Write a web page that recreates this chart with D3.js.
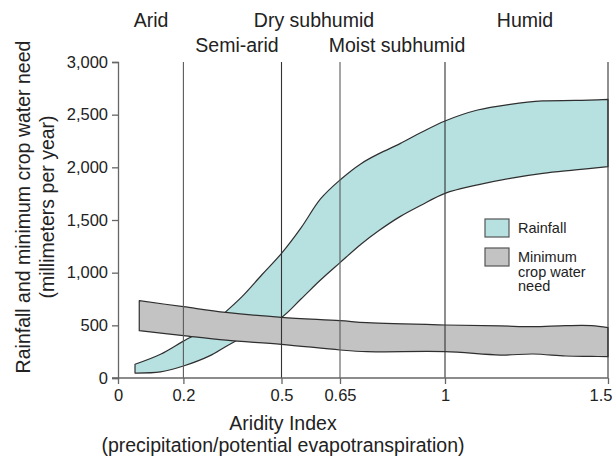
<!DOCTYPE html>
<html>
<head>
<meta charset="utf-8">
<script src="https://cdn.jsdelivr.net/npm/d3@7/dist/d3.min.js"></script>
<style>
  html, body { margin: 0; padding: 0; background: #fff; }
  svg { display: block; }
  text { font-family: "Liberation Sans", Arial, sans-serif; fill: #222; }
</style>
</head>
<body>
<div id="chart"></div>
<script>
// ---- Data ----
const xTicks = [0, 0.2, 0.5, 0.65, 1, 1.5];
const xTickLabels = ["0", "0.2", "0.5", "0.65", "1", "1.5"];
const zoneBoundaries = [0.2, 0.5, 0.65, 1, 1.5];
const zoneNames = ["Arid", "Semi-arid", "Dry subhumid", "Moist subhumid", "Humid"];
const yTicks = [0, 500, 1000, 1500, 2000, 2500, 3000];

// Rainfall band (mm/year): aridity index, lower and upper bounds
const rainX  = [0.052, 0.13, 0.2, 0.28, 0.33, 0.38, 0.44, 0.5, 0.55, 0.6, 0.65, 0.72, 0.78, 0.85, 0.92, 1.0, 1.1, 1.2, 1.3, 1.4, 1.5];
const rainLo = [47, 58, 114, 210, 300, 385, 480, 575, 750, 930, 1095, 1270, 1400, 1532, 1640, 1753, 1834, 1896, 1943, 1975, 2006];
const rainHi = [130, 225, 350, 490, 630, 775, 980, 1183, 1425, 1700, 1880, 2035, 2130, 2225, 2330, 2440, 2544, 2598, 2630, 2635, 2646];

// Minimum crop water need band (mm/year)
const needX  = [0.065, 0.2, 0.33, 0.5, 0.65, 0.74, 1.0, 1.17, 1.27, 1.37, 1.45, 1.5];
const needLo = [449, 402, 359, 320, 266, 250, 250, 218, 228, 209, 205, 202];
const needHi = [734, 677, 623, 576, 544, 525, 503, 494, 487, 497, 497, 478];

const legendLabels = [["Rainfall"], ["Minimum", "crop water", "need"]];

// ---- Layout ----
const W = 613, H = 456;
const TEAL = "#b7e0e0", GREY = "#c3c3c3", EDGE = "#2f2f2f";

const svg = d3.select("#chart").append("svg")
  .attr("width", W).attr("height", H);

// The source figure's axis is drawn piecewise (0.65 sits slightly off-linear)
const x = d3.scaleLinear()
  .domain([0, 0.5, 0.65, 1, 1.5])
  .range([118, 281.5, 340, 445, 608]);
const y = d3.scaleLinear().domain([0, 3000]).range([378, 62]);

const rain = rainX.map((v, i) => ({x: v, lo: rainLo[i], hi: rainHi[i]}));
const need = needX.map((v, i) => ({x: v, lo: needLo[i], hi: needHi[i]}));

const area = d3.area()
  .x(d => x(d.x)).y0(d => y(d.lo)).y1(d => y(d.hi))
  .curve(d3.curveCatmullRom.alpha(0.5));

svg.append("path").datum(rain).attr("d", area)
  .attr("fill", TEAL).attr("stroke", EDGE).attr("stroke-width", 1.2)
  .attr("stroke-linejoin", "round");
svg.append("path").datum(need).attr("d", area)
  .attr("fill", GREY).attr("stroke", EDGE).attr("stroke-width", 1.2)
  .attr("stroke-linejoin", "round");

// zone boundary lines
svg.append("g").selectAll("line").data(zoneBoundaries).join("line")
  .attr("x1", d => x(d)).attr("x2", d => x(d))
  .attr("y1", y(3000)).attr("y2", y(0))
  .attr("stroke", (d) => (d === 0.2 || d === 0.65) ? "#5a5a5a" : "#333")
  .attr("stroke-width", 1.1);

// axes
const yAxis = d3.axisLeft(y).tickValues(yTicks).tickSize(6).tickPadding(4)
  .tickFormat(d3.format(","));
const gy = svg.append("g").attr("transform", `translate(${x(0)},0)`).call(yAxis);
gy.select(".domain").attr("stroke", "#666").attr("stroke-width", 1.3);
gy.selectAll(".tick line").attr("stroke", "#666").attr("stroke-width", 1.3);
gy.selectAll(".tick text").attr("font-size", 16.5).attr("fill", "#333")
  .attr("font-family", "Liberation Sans, Arial, sans-serif");

const xAxis = d3.axisBottom(x).tickValues(xTicks).tickSize(6).tickPadding(5)
  .tickFormat((d, i) => xTickLabels[i]);
const gx = svg.append("g").attr("transform", `translate(0,${y(0)})`).call(xAxis);
gx.select(".domain").attr("stroke", "#666").attr("stroke-width", 1.3)
  .attr("d", `M${x(0) - 6},0H${x(1.5)}`);
gx.selectAll(".tick line").attr("stroke", "#666").attr("stroke-width", 1.3);
gx.selectAll(".tick text").attr("font-size", 16.5).attr("fill", "#333")
  .attr("font-family", "Liberation Sans, Arial, sans-serif");
// keep the last label inside the picture
gx.selectAll(".tick text").filter(d => d === 1.5)
  .attr("text-anchor", "end").attr("dx", 4);

// zone names above plot
const zonePos = [
  {cx: 151, y: 27}, {cx: 237, y: 52}, {cx: 314, y: 27}, {cx: 397, y: 52}, {cx: 525, y: 27}
];
svg.append("g").selectAll("text").data(zoneNames).join("text")
  .attr("x", (d, i) => zonePos[i].cx).attr("y", (d, i) => zonePos[i].y)
  .attr("text-anchor", "middle").attr("font-size", 19.5)
  .text(d => d);

// axis titles
svg.append("text").attr("x", 283).attr("y", 430).attr("text-anchor", "middle")
  .attr("font-size", 19.5).text("Aridity Index");
svg.append("text").attr("x", 283).attr("y", 452).attr("text-anchor", "middle")
  .attr("font-size", 19.5).text("(precipitation/potential evapotranspiration)");

svg.append("text").attr("transform", "translate(30,207) rotate(-90)")
  .attr("text-anchor", "middle").attr("font-size", 19.5)
  .text("Rainfall and minimum crop water need");
svg.append("text").attr("transform", "translate(54,207) rotate(-90)")
  .attr("text-anchor", "middle").attr("font-size", 19.5)
  .text("(millimeters per year)");

// legend
const lg = svg.append("g").attr("transform", "translate(485,219)");
const legFill = [TEAL, GREY];
legendLabels.forEach((lines, i) => {
  const g = lg.append("g").attr("transform", `translate(0,${i * 29})`);
  g.append("rect").attr("width", 24).attr("height", 18)
    .attr("fill", legFill[i]).attr("stroke", "#555").attr("stroke-width", 1.2);
  lines.forEach((t, j) => {
    g.append("text").attr("x", 33).attr("y", 14 + j * 14.5)
      .attr("font-size", 14.5).attr("fill", "#333").text(t);
  });
});
</script>
</body>
</html>
